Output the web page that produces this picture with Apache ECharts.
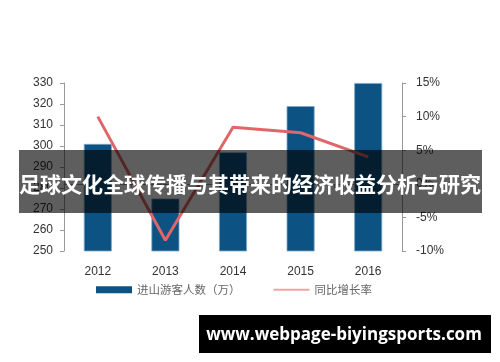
<!DOCTYPE html>
<html>
<head>
<meta charset="utf-8">
<script src="https://cdn.jsdelivr.net/npm/echarts@6/dist/echarts.min.js"></script>
<style>
html,body{margin:0;padding:0;background:#fff;}
#c{width:500px;height:362px;}
</style>
</head>
<body>
<div id="c"></div>
<script>
const categories = ['2012', '2013', '2014', '2015', '2016'];
const visitors = [301, 275, 297, 319, 330];
const growth = [10.0, -8.4, 8.4, 7.6, 4.0];
const leftTicks = [250, 260, 270, 280, 290, 300, 310, 320, 330];
const rightTicks = [-10, -5, 0, 5, 10, 15];
const seriesNames = ['进山游客人数（万）', '同比增长率'];
const titleText = '足球文化全球传播与其带来的经济收益分析与研究';
const watermarkText = 'www.webpage-biyingsports.com';

const chart = echarts.init(document.getElementById('c'), null, {renderer: 'canvas'});
const axisFont = {fontFamily: 'Liberation Sans', fontSize: 12, color: '#333'};
chart.setOption({
  animation: false,
  grid: {left: 64, right: 98, top: 83, bottom: 111, containLabel: false},
  legend: {
    left: 96, top: 284, padding: 0,
    itemWidth: 36, itemHeight: 7, itemGap: 32,
    textStyle: {fontFamily: 'Noto Sans CJK SC', fontSize: 11.5, color: '#666'},
    data: [
      {name: seriesNames[0], icon: 'rect', itemStyle: {color: '#0c5283', borderWidth: 0}},
      {name: seriesNames[1], itemStyle: {opacity: 0}, lineStyle: {color: '#f3a3a3', width: 2}}
    ]
  },
  xAxis: {
    type: 'category',
    data: categories,
    axisLine: {lineStyle: {color: '#999', width: 1}},
    axisTick: {show: true, length: 4, alignWithLabel: false, lineStyle: {color: '#999'}},
    axisLabel: Object.assign({margin: 15}, axisFont)
  },
  yAxis: [
    {
      type: 'value', min: leftTicks[0], max: leftTicks[leftTicks.length - 1], interval: 10,
      splitLine: {show: false},
      axisLine: {show: true, lineStyle: {color: '#999'}},
      axisTick: {show: true, length: 4, lineStyle: {color: '#999'}},
      axisLabel: Object.assign({margin: 11}, axisFont)
    },
    {
      type: 'value', min: rightTicks[0], max: rightTicks[rightTicks.length - 1], interval: 5,
      splitLine: {show: false},
      axisLine: {show: true, lineStyle: {color: '#999'}},
      axisTick: {show: true, length: 4, lineStyle: {color: '#999'}},
      axisLabel: Object.assign({margin: 14, formatter: '{value}%'}, axisFont)
    }
  ],
  series: [
    {
      name: seriesNames[0], type: 'bar', data: visitors, barWidth: 28,
      itemStyle: {color: '#0c5283', borderColor: '#7eaacb', borderWidth: 0.8}
    },
    {
      name: seriesNames[1], type: 'line', yAxisIndex: 1, data: growth,
      symbol: 'none', lineStyle: {color: '#e06769', width: 3}, z: 3
    }
  ],
  graphic: [
    {type: 'rect', z: 100, shape: {x: 19, y: 150, width: 463, height: 63}, style: {fill: 'rgba(0,0,0,0.63)'}},
    {type: 'text', z: 101, style: {x: 250, y: 184, text: titleText, fill: '#fff', font: 'bold 21px "Noto Sans CJK SC"', textAlign: 'center', textVerticalAlign: 'middle'}},
    {type: 'rect', z: 100, shape: {x: 199, y: 315, width: 292, height: 38}, style: {fill: '#000'}},
    {type: 'text', z: 101, style: {x: 344, y: 335, text: watermarkText, fill: '#fff', font: 'bold 17px "Open Sans"', textAlign: 'center', textVerticalAlign: 'middle'}}
  ]
});
</script>
</body>
</html>
